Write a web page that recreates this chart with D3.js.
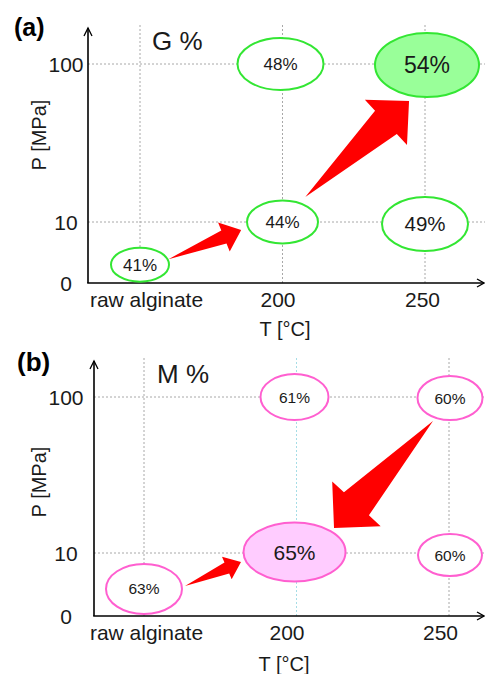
<!DOCTYPE html>
<html>
<head>
<meta charset="utf-8">
<script src="https://cdn.jsdelivr.net/npm/d3@7"></script>
<style>
  html, body { margin: 0; padding: 0; background: #fff; }
  svg { display: block; font-family: "Liberation Sans", Arial, sans-serif; }
</style>
</head>
<body>
<svg id="chart" width="485" height="674"></svg>
<script>
// ---- data -------------------------------------------------------------
const temperatureCategories = ["raw alginate", "200", "250"];
const pressureTicks = [0, 10, 100];

// one entry per sample: treatment temperature and pressure (raw alginate sits below 10 MPa)
const sampleTemperature = ["raw alginate", "200", "200", "250", "250"];
const gPressure = [3, 10, 100, 10, 100];
const gPercent  = [41, 44, 48, 49, 54];
const mPressure = [4.3, 10, 100, 10, 100];
const mPercent  = [63, 65, 61, 60, 60];

// arrows between samples (indices into the sample arrays)
const gArrows = [[0, 1], [1, 4]];
const mArrows = [[0, 1], [4, 1]];

// ---- layout / style ---------------------------------------------------
const font = '"Liberation Sans", Arial, sans-serif';
const textColor = "#1a1a1a";

const panels = [
  {
    tag: "(a)", tagX: 14, tagY: 36, tagSize: 25,
    title: "G %", titleX: 152, titleY: 50,
    pressure: gPressure, percent: gPercent, arrows: gArrows,
    originX: 88, originY: 283, yRange: [283, 222, 64], xRange: [140, 425],
    axisTop: 28, gridTop: 25,
    tickLabelX: 66, tickLabelY: 307, tickDx: [6, -5, -3],
    xLabelX: 285, xLabelY: 336, yLabelX: 46, yLabelY: 135,
    stroke: "#33e633", fill: "#99ff99", highlight: 4,
    gridColors: ["#a8a8a8", "#a8a8a8", "#a8a8a8"],
    // ellipse half-axes and font size per sample
    rx: [29, 35.5, 43, 43, 52], ry: [17, 21.5, 26, 27, 32], fs: [17, 17, 17, 20.5, 23],
    shift: [[0, 0], [0, 0], [-2, 0], [0, 2], [2, 1]],
    arrowShape: [
      { start: [0.2, 0.13], end: [0.71, 0.81], head: 18.6, headHalf: 15.7, shaftHalf: 7 },
      { start: [0.16, 0.158], end: [0.888, 0.766], head: 31.5, headHalf: 31, shaftHalf: 16 }
    ]
  },
  {
    tag: "(b)", tagX: 17, tagY: 371, tagSize: 26,
    title: "M %", titleX: 157, titleY: 383,
    pressure: mPressure, percent: mPercent, arrows: mArrows,
    originX: 94, originY: 616, yRange: [616, 553, 397], xRange: [144, 449],
    axisTop: 361, gridTop: 358,
    tickLabelX: 66, tickLabelY: 640, tickDx: [2, -10, -9],
    xLabelX: 284, xLabelY: 671, yLabelX: 46, yLabelY: 482,
    stroke: "#ff5fd0", fill: "#ffccff", highlight: 1,
    gridColors: ["#a8a8a8", "#a6dde6", "#a8a8a8"],
    rx: [38, 51, 34, 32, 32.5], ry: [25, 29.5, 23, 21, 22], fs: [15.5, 21, 15.5, 15.5, 15.5],
    shift: [[0, 0], [-2, -1], [-2, 0], [1, 2], [1, 1]],
    arrowShape: [
      { start: [0.269, 0.083], end: [0.636, 0.75], head: 15.4, headHalf: 12.3, shaftHalf: 6 },
      { start: [0.105, 0.154], end: [0.754, 0.84], head: 33, headHalf: 33, shaftHalf: 17 }
    ]
  }
];

const svg = d3.select("#chart");
const W = 485;

// tapered block arrow: point tail widening to a triangular head
function blockArrow(p0, p1, headLen, headHalf, shaftHalf) {
  const dx = p1[0] - p0[0], dy = p1[1] - p0[1];
  const len = Math.hypot(dx, dy);
  const ux = dx / len, uy = dy / len, nx = -uy, ny = ux;
  const bx = p1[0] - ux * headLen, by = p1[1] - uy * headLen;
  return [
    p0,
    [bx + nx * shaftHalf, by + ny * shaftHalf],
    [bx + nx * headHalf, by + ny * headHalf],
    p1,
    [bx - nx * headHalf, by - ny * headHalf],
    [bx - nx * shaftHalf, by - ny * shaftHalf]
  ];
}

panels.forEach(P => {
  const g = svg.append("g");
  const x = d3.scalePoint().domain(temperatureCategories).range(P.xRange);
  const y = d3.scaleLinear().domain(pressureTicks).range(P.yRange);

  // dotted grid
  g.selectAll(".hgrid").data(pressureTicks.filter(d => d > 0)).join("line")
    .attr("x1", P.originX).attr("x2", W)
    .attr("y1", d => y(d)).attr("y2", d => y(d))
    .attr("stroke", "#a8a8a8").attr("stroke-width", 1).attr("stroke-dasharray", "2,2");
  g.selectAll(".vgrid").data(temperatureCategories).join("line")
    .attr("x1", d => x(d)).attr("x2", d => x(d))
    .attr("y1", P.gridTop).attr("y2", P.originY)
    .attr("stroke", (d, i) => P.gridColors[i]).attr("stroke-width", 1).attr("stroke-dasharray", "2,2");

  // axes with arrow tips
  g.append("line").attr("x1", P.originX).attr("x2", P.originX)
    .attr("y1", P.originY).attr("y2", P.axisTop)
    .attr("stroke", "#000").attr("stroke-width", 1.6);
  g.append("path")
    .attr("d", `M${P.originX - 4},${P.axisTop + 8}L${P.originX},${P.axisTop}L${P.originX + 4},${P.axisTop + 8}`)
    .attr("fill", "none").attr("stroke", "#000").attr("stroke-width", 1.3);
  g.append("line").attr("x1", P.originX - 0.8).attr("x2", W - 1)
    .attr("y1", P.originY).attr("y2", P.originY)
    .attr("stroke", "#000").attr("stroke-width", 1.6);
  g.append("path")
    .attr("d", `M${W - 8},${P.originY - 4}L${W - 1},${P.originY}L${W - 8},${P.originY + 4}`)
    .attr("fill", "none").attr("stroke", "#000").attr("stroke-width", 1.3);

  // tick labels
  const yAxis = g.append("g").attr("transform", `translate(${P.originX},0)`)
    .call(d3.axisLeft(y).tickValues(pressureTicks).tickSize(0).tickFormat(d3.format("d")));
  yAxis.select(".domain").remove();
  yAxis.selectAll("text")
    .attr("text-anchor", "middle").attr("x", P.tickLabelX - P.originX).attr("dy", "0.38em")
    .attr("font-family", font).attr("font-size", 21).attr("fill", textColor);

  const xAxis = g.append("g").attr("transform", `translate(0,${P.originY})`)
    .call(d3.axisBottom(x).tickSize(0));
  xAxis.select(".domain").remove();
  xAxis.selectAll("text")
    .attr("y", P.tickLabelY - P.originY).attr("dy", 0)
    .attr("dx", (d, i) => P.tickDx[i])
    .attr("font-family", font).attr("font-size", 21).attr("fill", textColor);

  // axis titles
  g.append("text").attr("x", P.xLabelX).attr("y", P.xLabelY)
    .attr("text-anchor", "middle").attr("font-size", 20).attr("fill", textColor)
    .text("T [°C]");
  g.append("text")
    .attr("transform", `translate(${P.yLabelX},${P.yLabelY}) rotate(-90)`)
    .attr("text-anchor", "middle").attr("font-size", 20).attr("fill", textColor)
    .text("P [MPa]");

  // panel tag and title
  g.append("text").attr("x", P.tagX).attr("y", P.tagY)
    .attr("font-size", P.tagSize).attr("font-weight", "bold").attr("fill", "#000")
    .text(P.tag);
  g.append("text").attr("x", P.titleX).attr("y", P.titleY)
    .attr("font-size", 26).attr("fill", textColor)
    .text(P.title);

  // sample ellipses
  const samples = sampleTemperature.map((t, i) => ({
    t, p: P.pressure[i], v: P.percent[i], i,
    cx: x(t) + P.shift[i][0], cy: y(P.pressure[i]) + P.shift[i][1]
  }));
  const node = g.selectAll(".sample").data(samples).join("g");
  node.append("ellipse")
    .attr("cx", d => d.cx).attr("cy", d => d.cy)
    .attr("rx", d => P.rx[d.i]).attr("ry", d => P.ry[d.i])
    .attr("fill", d => d.i === P.highlight ? P.fill : "#fff")
    .attr("stroke", P.stroke).attr("stroke-width", 2);
  node.append("text")
    .attr("x", d => d.cx).attr("y", d => d.cy).attr("dy", "0.36em")
    .attr("text-anchor", "middle").attr("font-size", d => P.fs[d.i]).attr("fill", textColor)
    .text(d => d.v + "%");

  // trend arrows
  const line = d3.line();
  P.arrows.forEach(([a, b], k) => {
    const A = [x(sampleTemperature[a]), y(P.pressure[a])];
    const B = [x(sampleTemperature[b]), y(P.pressure[b])];
    const s = P.arrowShape[k];
    const p0 = [A[0] + (B[0] - A[0]) * s.start[0], A[1] + (B[1] - A[1]) * s.start[1]];
    const p1 = [A[0] + (B[0] - A[0]) * s.end[0], A[1] + (B[1] - A[1]) * s.end[1]];
    g.append("path")
      .attr("d", line(blockArrow(p0, p1, s.head, s.headHalf, s.shaftHalf)) + "Z")
      .attr("fill", "#ff0000");
  });
});
</script>
</body>
</html>
